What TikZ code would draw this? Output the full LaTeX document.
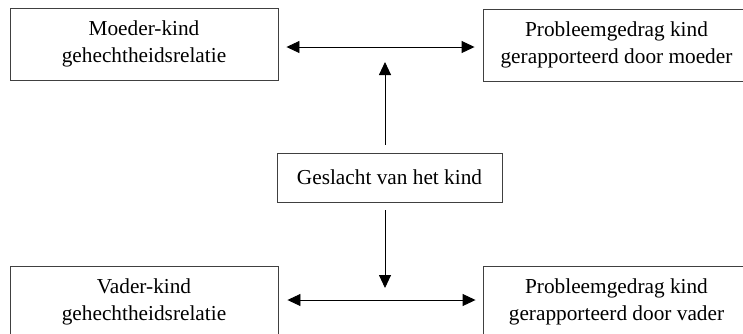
\documentclass[tikz,border=0pt]{standalone}
\usepackage{fontspec}
\setmainfont{Liberation Serif}
\usetikzlibrary{arrows.meta,calc}
\begin{document}
\begin{tikzpicture}[x=1pt,y=-1pt,
  box/.style={draw=black!75,line width=0.9pt,rectangle,align=center,inner sep=0pt,
    font=\fontsize{21.3}{27}\selectfont},
  conn/.style={line width=0.9pt,-{Triangle[length=13pt,width=12pt]}},
  bconn/.style={line width=0.9pt,{Triangle[length=13pt,width=12pt]}-{Triangle[length=13pt,width=12pt]}}]
\useasboundingbox (0,0) rectangle (743,333);
\clip (0,0) rectangle (743,333);
\node[box,minimum width=268pt,minimum height=72pt] (TL) at (144,44) {Moeder-kind\\gehechtheidsrelatie};
\node[box,minimum width=267pt,minimum height=72pt] (TR) at (616.5,45) {Probleemgedrag kind\\gerapporteerd door moeder};
\node[box,minimum width=225pt,minimum height=49pt] (M) at (389.5,177.5) {Geslacht van het kind};
\node[box,minimum width=268pt,minimum height=72pt] (BL) at (144,302) {Vader-kind\\gehechtheidsrelatie};
\node[box,minimum width=267pt,minimum height=72pt] (BR) at (616.5,302) {Probleemgedrag kind\\gerapporteerd door vader};
\coordinate (upTip) at (385,62);
\coordinate (downTip) at (385,288);
\draw[bconn] ($(TL.east)+(8,3)$) -- ($(TR.west)+(-8,2)$);
\draw[bconn] ($(BL.east)+(9,-2)$) -- ($(BR.west)+(-7,-2)$);
\draw[conn] ($(M.north)+(-4.5,-8)$) -- (upTip);
\draw[conn] ($(M.south)+(-4.5,8)$) -- (downTip);
\end{tikzpicture}
\end{document}
